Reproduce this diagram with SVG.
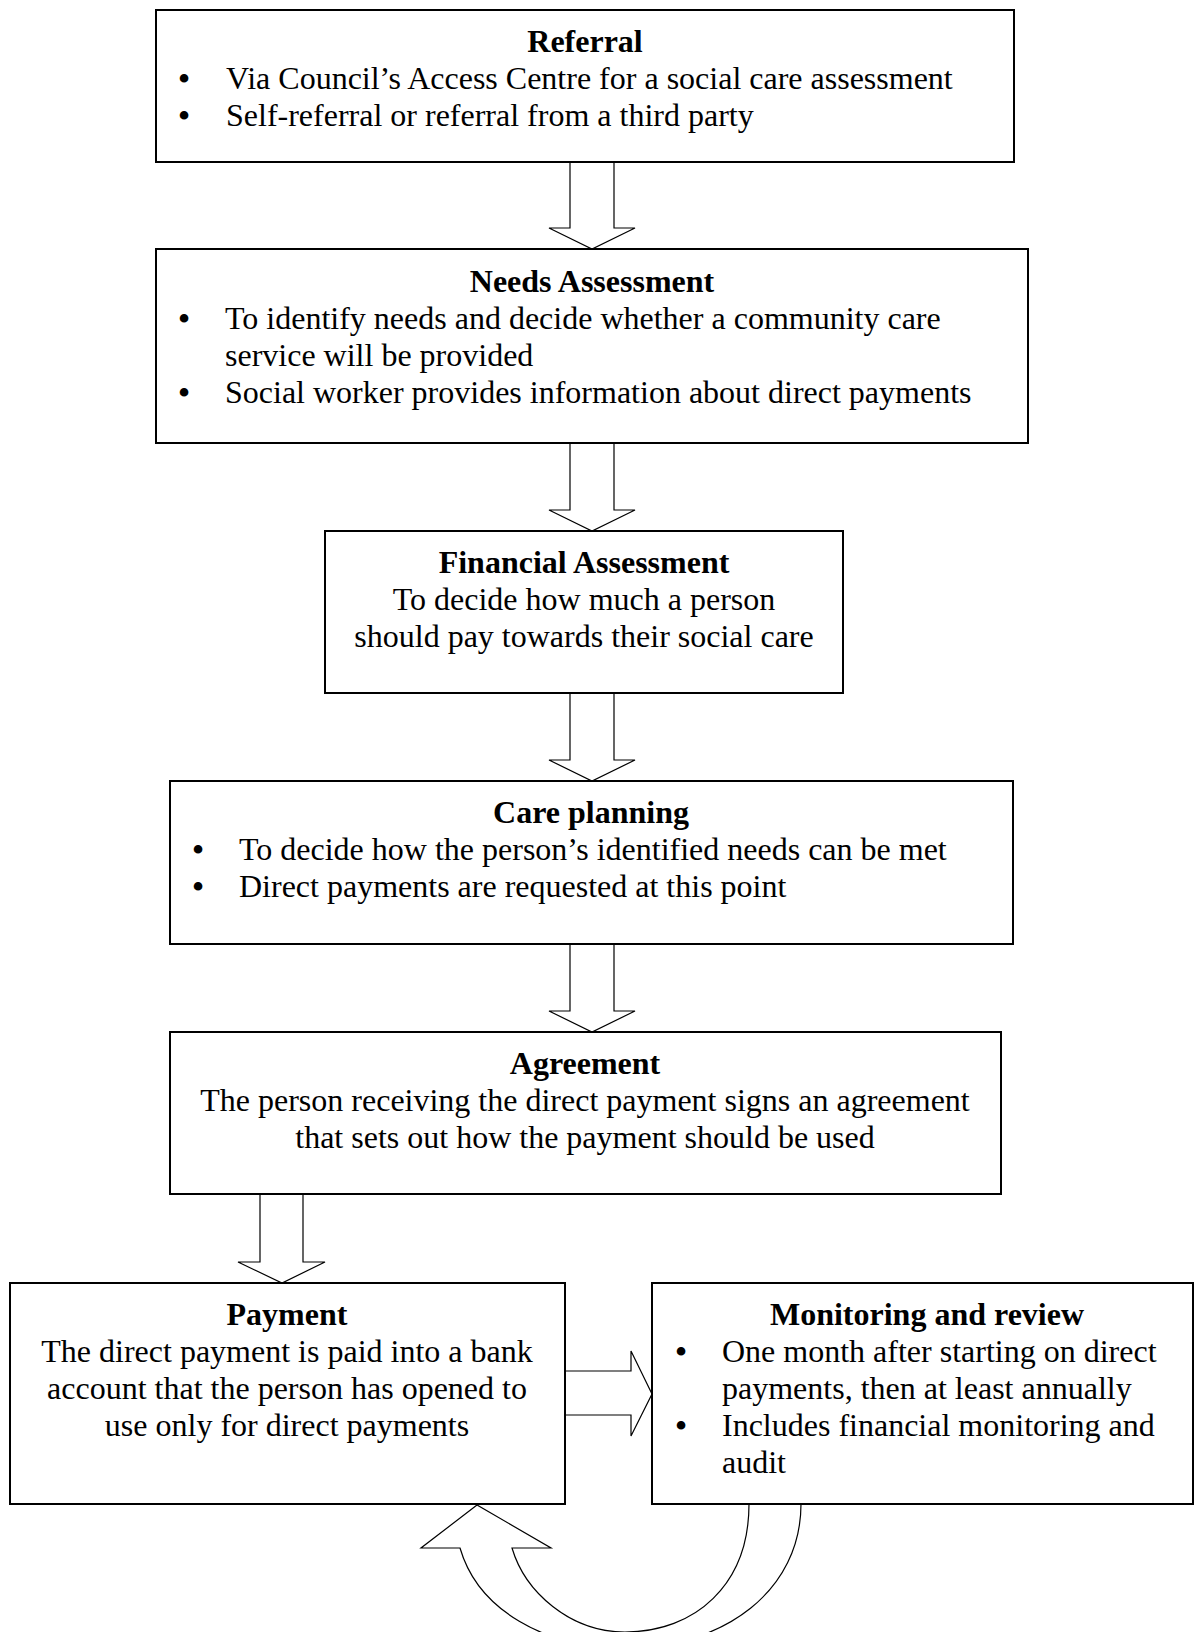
<svg xmlns="http://www.w3.org/2000/svg" width="1204" height="1632" viewBox="0 0 1204 1632">
<style>
.box{fill:#fff;stroke:#000;stroke-width:2}
.arr{fill:#fff;stroke:#000;stroke-width:1.2;stroke-linejoin:miter}
text{font-family:"Liberation Serif","Times New Roman",serif;font-size:32px;fill:#000}
.t{font-weight:bold;text-anchor:middle}
.c{text-anchor:middle}
.b{text-anchor:middle;font-size:36px}
</style>
<rect width="1204" height="1632" fill="#fff"/>
<g id="connectors">
<polygon class="arr" points="570,162 614,162 614,228 635,228 592,249 549,228 570,228"/>
<polygon class="arr" points="570,443 614,443 614,510 635,510 592,531 549,510 570,510"/>
<polygon class="arr" points="570,693 614,693 614,760 635,760 592,781 549,760 570,760"/>
<polygon class="arr" points="570,944 614,944 614,1011 635,1011 592,1032 549,1011 570,1011"/>
<polygon class="arr" points="260,1194 303,1194 303,1262 325,1262 282,1283 238,1262 260,1262"/>
<polygon class="arr" points="565,1371 631,1371 631,1351 652,1394 631,1436 631,1415 565,1415"/>
<path class="arr" d="M801,1504 C801,1590 725,1648 625,1648 C545,1648 478,1610 460,1548 L421,1548 L477,1505 L551,1548 L512,1548 C525,1592 570,1632 625,1632 C695,1632 749,1585 749,1504"/>
</g>
<g id="referral">
<rect class="box" x="156" y="10" width="858" height="152"/>
<text class="t" x="585" y="52">Referral</text>
<text class="b" x="184" y="91">•</text><text x="226" y="89">Via Council’s Access Centre for a social care assessment</text>
<text class="b" x="184" y="128">•</text><text x="226" y="126">Self-referral or referral from a third party</text>
</g>
<g id="needs">
<rect class="box" x="156" y="249" width="872" height="194"/>
<text class="t" x="592" y="292">Needs Assessment</text>
<text class="b" x="184" y="331">•</text><text x="225" y="329">To identify needs and decide whether a community care</text>
<text x="225" y="366">service will be provided</text>
<text class="b" x="184" y="405">•</text><text x="225" y="403">Social worker provides information about direct payments</text>
</g>
<g id="financial">
<rect class="box" x="325" y="531" width="518" height="162"/>
<text class="t" x="584" y="573">Financial Assessment</text>
<text class="c" x="584" y="610">To decide how much a person</text>
<text class="c" x="584" y="647">should pay towards their social care</text>
</g>
<g id="care">
<rect class="box" x="170" y="781" width="843" height="163"/>
<text class="t" x="591" y="823">Care planning</text>
<text class="b" x="198" y="862">•</text><text x="239" y="860">To decide how the person’s identified needs can be met</text>
<text class="b" x="198" y="899">•</text><text x="239" y="897">Direct payments are requested at this point</text>
</g>
<g id="agreement">
<rect class="box" x="170" y="1032" width="831" height="162"/>
<text class="t" x="585" y="1074">Agreement</text>
<text class="c" x="585" y="1111">The person receiving the direct payment signs an agreement</text>
<text class="c" x="585" y="1148">that sets out how the payment should be used</text>
</g>
<g id="payment">
<rect class="box" x="10" y="1283" width="555" height="221"/>
<text class="t" x="287" y="1325">Payment</text>
<text class="c" x="287" y="1362">The direct payment is paid into a bank</text>
<text class="c" x="287" y="1399">account that the person has opened to</text>
<text class="c" x="287" y="1436">use only for direct payments</text>
</g>
<g id="monitoring">
<rect class="box" x="652" y="1283" width="541" height="221"/>
<text class="t" x="927" y="1325">Monitoring and review</text>
<text class="b" x="681" y="1364">•</text><text x="722" y="1362">One month after starting on direct</text>
<text x="722" y="1399">payments, then at least annually</text>
<text class="b" x="681" y="1438">•</text><text x="722" y="1436">Includes financial monitoring and</text>
<text x="722" y="1473">audit</text>
</g>
</svg>
